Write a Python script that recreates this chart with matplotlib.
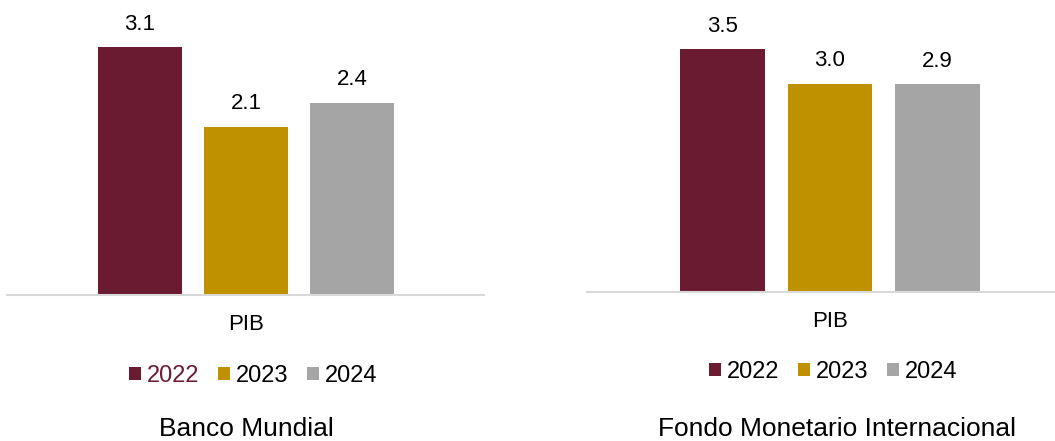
import matplotlib.pyplot as plt
from matplotlib.patches import Patch

plt.rcParams['font.family'] = ['Liberation Sans', 'DejaVu Sans']

years = ['2022', '2023', '2024']
colors = ['#6a1b32', '#bf9000', '#a5a5a5']
category = 'PIB'

bm_values = [3.1, 2.1, 2.4]
bm_labels = ['3.1', '2.1', '2.4']
fmi_values = [3.5, 3.0, 2.99]
fmi_labels = ['3.5', '3.0', '2.9']

W, H = 1055, 441
fig = plt.figure(figsize=(W / 100, H / 100), dpi=100)


def panel(rect, values, labels, xlim, ylim, width):
    ax = fig.add_axes(rect)
    x = [-1, 0, 1]
    bars = ax.bar(x, values, width=width, color=colors)
    ax.bar_label(bars, labels=labels, padding=9, fontsize=16)
    ax.set_xlim(*xlim)
    ax.set_ylim(0, ylim)
    for s in ['top', 'right', 'left']:
        ax.spines[s].set_visible(False)
    ax.spines['bottom'].set_color('#d9d9d9')
    ax.spines['bottom'].set_linewidth(1.5)
    ax.set_yticks([])
    ax.set_xticks([0], [category])
    ax.tick_params(axis='x', length=0, pad=14, labelsize=16)
    ax.patch.set_alpha(0)
    return ax


panel([7 / W, (H - 294.7) / H, 477 / W, 294.7 / H], bm_values, bm_labels,
      (-2.255, 2.245), 294.7 / 79.9, 0.79)
panel([587 / W, (H - 292) / H, 486 / W, 292 / H], fmi_values, fmi_labels,
      (-2.27, 2.27), 292 / 69.4, 0.794)


def legend(cx, cy, first_color):
    handles = [Patch(facecolor=c, edgecolor='none') for c in colors]
    leg = fig.legend(handles, years, loc='center', bbox_to_anchor=(cx / W, 1 - cy / H),
                     ncol=3, frameon=False, fontsize=17, handlelength=0.5,
                     handleheight=0.5, handletextpad=0.25, columnspacing=0.8)
    leg.get_texts()[0].set_color(first_color)


legend(253, 376, '#6a1b32')
legend(833, 372, 'black')

fig.text(246 / W, 1 - 429 / H, 'Banco Mundial', ha='center', va='center', fontsize=19)
fig.text(837 / W, 1 - 429 / H, 'Fondo Monetario Internacional', ha='center', va='center', fontsize=19)

fig.savefig('out.png', dpi=100)
